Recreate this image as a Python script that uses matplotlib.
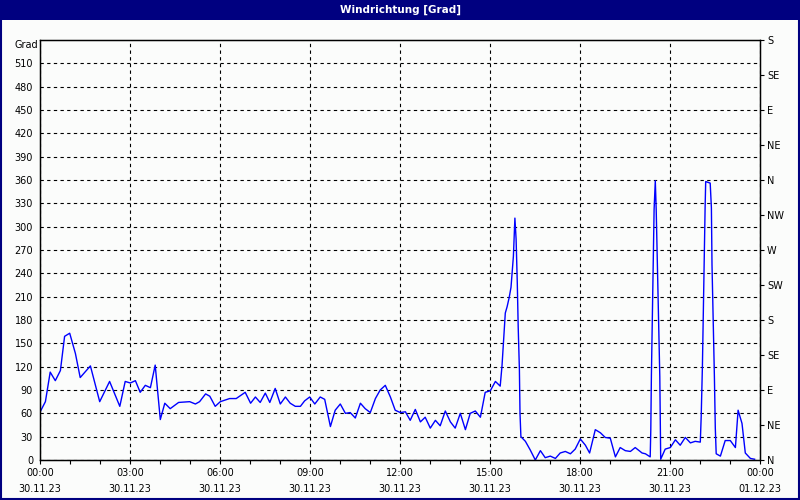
import matplotlib as mpl
mpl.use('Agg')
from matplotlib import pyplot as plt
from matplotlib.patches import Rectangle

# time of day in hours, wind direction in degrees
hours = [0.02, 0.18, 0.34, 0.51, 0.68, 0.82, 0.99, 1.18, 1.34, 1.68, 1.99, 2.32, 2.66, 2.84,
         3.01, 3.18, 3.34, 3.51, 3.68, 3.84, 4.01, 4.16, 4.34, 4.62, 4.99, 5.18, 5.32, 5.52,
         5.66, 5.84, 6.01, 6.32, 6.54, 6.84, 7.02, 7.18, 7.34, 7.51, 7.66, 7.84, 8.01, 8.18,
         8.34, 8.51, 8.68, 8.82, 8.99, 9.16, 9.34, 9.49, 9.68, 9.84, 10.01, 10.18, 10.34,
         10.51, 10.68, 10.84, 11.01, 11.18, 11.34, 11.51, 11.68, 11.84, 12.01, 12.18, 12.34,
         12.51, 12.68, 12.84, 13.01, 13.18, 13.34, 13.51, 13.68, 13.84, 14.01, 14.18, 14.34,
         14.51, 14.68, 14.84, 15.01, 15.18, 15.34, 15.40, 15.51, 15.57, 15.64, 15.70, 15.78,
         15.83, 15.87, 15.91, 15.94, 15.98, 16.00, 16.03, 16.18, 16.34, 16.51, 16.68, 16.84,
         17.01, 17.18, 17.34, 17.51, 17.68, 17.84, 18.01, 18.18, 18.32, 18.51, 18.68, 18.84,
         19.01, 19.18, 19.34, 19.51, 19.68, 19.84, 20.07, 20.18, 20.34, 20.36, 20.38, 20.41,
         20.44, 20.47, 20.51, 20.54, 20.58, 20.62, 20.66, 20.68, 20.69, 20.84, 21.01, 21.18,
         21.34, 21.51, 21.68, 21.84, 22.01, 22.04, 22.08, 22.11, 22.14, 22.17, 22.19, 22.34,
         22.38, 22.40, 22.44, 22.48, 22.51, 22.54, 22.68, 22.84, 23.01, 23.18, 23.27, 23.40,
         23.51, 23.68, 23.82]
grad = [63, 75, 113, 102, 115, 159, 163, 137, 106, 121, 75, 101, 69, 101,
        99, 102, 87, 96, 93, 122, 52, 73, 66, 74, 75, 72, 75, 85,
        82, 69, 75, 79, 79, 87, 73, 81, 74, 86, 74, 92, 72, 81,
        73, 69, 69, 76, 81, 72, 81, 78, 43, 64, 72, 60, 61,
        54, 73, 66, 61, 79, 90, 96, 81, 64, 61, 62, 51,
        65, 49, 55, 41, 51, 44, 63, 49, 41, 60, 39, 60,
        63, 55, 87, 89, 101, 95, 121, 189, 197, 209, 222, 262,
        311, 284, 227, 171, 116, 60, 30, 24, 13, 0, 12, 3,
        5, 2, 9, 11, 8, 14, 27, 19, 9, 39, 35, 29,
        28, 4, 16, 12, 11, 16, 9, 8, 4, 39, 109, 180,
        251, 322, 359, 322, 251, 178, 107, 34, 1, 14, 16, 26,
        19, 29, 22, 24, 23, 56, 120, 189, 255, 324, 358, 356,
        324, 251, 178, 107, 41, 8, 5, 25, 25, 16, 64, 47,
        9, 2, 1]

x_ticks = [0, 3, 6, 9, 12, 15, 18, 21, 24]
x_labels = ['00:00\n30.11.23', '03:00\n30.11.23', '06:00\n30.11.23', '09:00\n30.11.23',
            '12:00\n30.11.23', '15:00\n30.11.23', '18:00\n30.11.23', '21:00\n30.11.23',
            '00:00\n01.12.23']
y_ticks = list(range(0, 540, 30))
compass = ['N', 'NE', 'E', 'SE', 'S', 'SW', 'W', 'NW', 'N', 'NE', 'E', 'SE', 'S']

navy = '#000080'
fig = plt.figure(figsize=(8, 5), dpi=100, facecolor='#fbfcfb')
ax = fig.add_axes([0.05, 0.08, 0.90, 0.84])
ax.set_facecolor('#fbfcfb')

ax.plot(hours, grad, color='#0000ff', linewidth=1)

ax.set_xlim(0, 24)
ax.set_ylim(0, 540)
ax.set_xticks(x_ticks)
ax.set_xticklabels(x_labels, fontsize=7, linespacing=1.75)
ax.set_xticks(range(25), minor=True)
ax.set_yticks(y_ticks)
ax.set_yticklabels([str(v) for v in y_ticks], fontsize=7)
ax.tick_params(axis='x', which='both', length=3, width=0.8, pad=3)
ax.tick_params(axis='y', length=0, pad=5)
ax.grid(True, axis='both', which='major', color='black', linestyle=(0, (3, 3)), linewidth=0.8)
for s in ax.spines.values():
    s.set_linewidth(1)

ax2 = ax.twinx()
ax2.set_ylim(0, 540)
ax2.set_yticks(range(0, 541, 45))
ax2.set_yticklabels(compass, fontsize=7)
ax2.tick_params(axis='y', length=3, width=0.8, pad=2)

ax.text(-0.003, 1.0 - 5 / 420, 'Grad', transform=ax.transAxes, fontsize=7,
        ha='right', va='center')

# title bar and window frame
fig.patches.append(Rectangle((0, 0.96), 1, 0.04, transform=fig.transFigure,
                             facecolor=navy, edgecolor='none', zorder=-1))
fig.patches.append(Rectangle((0.001, 0.002), 0.998, 0.996, transform=fig.transFigure,
                             facecolor='none', edgecolor=navy, linewidth=1.5))
fig.text(0.5, 0.98, 'Windrichtung [Grad]', color='white', fontsize=7.5,
         fontweight='bold', ha='center', va='center')

plt.savefig('out.png', dpi=100, facecolor=fig.get_facecolor())
